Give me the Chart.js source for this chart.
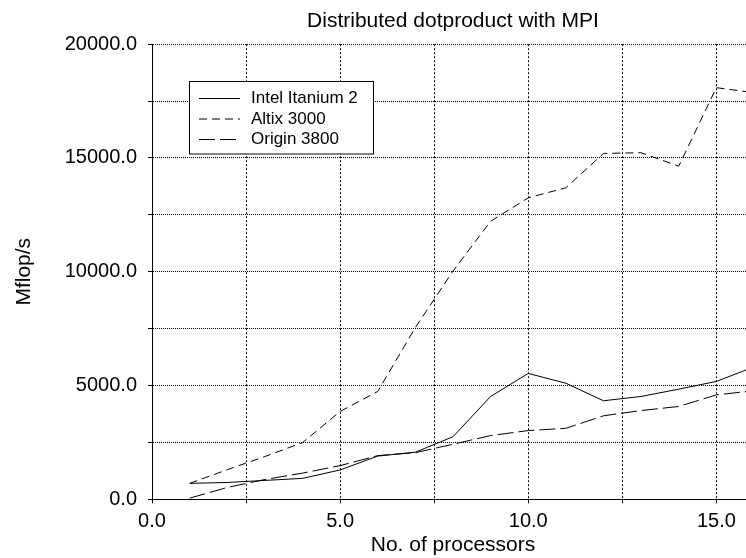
<!DOCTYPE html>
<html>
<head>
<meta charset="utf-8">
<script src="https://cdn.jsdelivr.net/npm/chart.js@4"></script>
<style>
  html, body { margin: 0; padding: 0; background: #fff; overflow: hidden; }
  #wrap { width: 746px; height: 558px; overflow: hidden; }
</style>
</head>
<body>
<div id="wrap"><canvas id="dotChart" width="754" height="558"></canvas></div>
<script>
// Data
const processors = [1, 2, 3, 4, 5, 6, 7, 8, 9, 10, 11, 12, 13, 14, 15, 16];
const itanium = [700, 740, 830, 920, 1290, 1900, 2070, 2750, 4520, 5530, 5100, 4330, 4520, 4840, 5180, 5820];
const altix = [700, 1300, 1880, 2490, 3860, 4740, 7550, 10030, 12220, 13250, 13690, 15200, 15230, 14640, 18090, 17870];
const origin = [50, 520, 870, 1150, 1480, 1920, 2050, 2420, 2800, 3020, 3120, 3670, 3900, 4080, 4590, 4770];
const seriesNames = ["Intel Itanium 2", "Altix 3000", "Origin 3800"];

function toPoints(ys) {
  return processors.map(function (x, i) { return { x: x, y: ys[i] }; });
}

Chart.defaults.font.family = '"Liberation Sans", Arial, Helvetica, sans-serif';
Chart.defaults.color = "#000";

// legend box drawn inside the plot area
const boxLegend = {
  id: "boxLegend",
  afterDraw: function (chart) {
    const ctx = chart.ctx;
    const left = 189.5, top = 81.5, w = 184, h = 72.5;
    ctx.save();
    ctx.fillStyle = "#fff";
    ctx.fillRect(left, top, w, h);
    ctx.strokeStyle = "#000";
    ctx.lineWidth = 1;
    ctx.setLineDash([]);
    ctx.strokeRect(left, top, w, h);
    ctx.font = '17px "Liberation Sans", Arial, sans-serif';
    ctx.textBaseline = "middle";
    ctx.fillStyle = "#000";
    chart.data.datasets.forEach(function (ds, i) {
      const y = 98.5 + i * 20.5;
      ctx.beginPath();
      ctx.setLineDash(ds.borderDash || []);
      ctx.moveTo(199, y);
      ctx.lineTo(240, y);
      ctx.stroke();
      ctx.fillText(ds.label, 251, y);
    });
    ctx.restore();
  },
};

new Chart(document.getElementById("dotChart").getContext("2d"), {
  type: "line",
  data: {
    datasets: [
      {
        label: seriesNames[0],
        data: toPoints(itanium),
        borderColor: "#000",
        borderWidth: 1,
        pointRadius: 0,
        tension: 0,
      },
      {
        label: seriesNames[1],
        data: toPoints(altix),
        borderColor: "#000",
        borderWidth: 1,
        borderDash: [8, 5],
        pointRadius: 0,
        tension: 0,
      },
      {
        label: seriesNames[2],
        data: toPoints(origin),
        borderColor: "#000",
        borderWidth: 1,
        borderDash: [16, 5],
        pointRadius: 0,
        tension: 0,
      },
    ],
  },
  options: {
    responsive: false,
    animation: false,
    layout: { padding: 0 },
    plugins: {
      legend: { display: false },
      tooltip: { enabled: false },
      title: {
        display: true,
        fullSize: false,
        text: "Distributed dotproduct with MPI",
        font: { size: 21, weight: "normal" },
        color: "#000",
        padding: { top: 9, bottom: 10 },
      },
    },
    scales: {
      x: {
        type: "linear",
        min: 0,
        max: 16,
        afterFit: function (scale) { scale.height = 58.7; },
        ticks: {
          stepSize: 2.5,
          includeBounds: false,
          maxRotation: 0,
          autoSkip: false,
          padding: 6,
          font: { size: 20 },
          callback: function (v) { return v % 5 === 0 ? v.toFixed(1) : ""; },
        },
        grid: { color: "#000", tickLength: 4, lineWidth: 1 },
        border: { color: "#000", width: 1, dash: [2, 2] },
        title: {
          display: true,
          text: "No. of processors",
          font: { size: 21 },
          padding: { top: 0, bottom: 0 },
        },
      },
      y: {
        min: 0,
        max: 20000,
        afterFit: function (scale) { scale.width = 152; },
        ticks: {
          stepSize: 2500,
          autoSkip: false,
          padding: 11,
          font: { size: 20 },
          callback: function (v) { return v % 5000 === 0 ? v.toFixed(1) : ""; },
        },
        grid: { color: "#000", tickLength: 4, lineWidth: 1 },
        border: { color: "#000", width: 1, dash: [1, 1] },
        title: {
          display: true,
          text: "Mflop/s",
          font: { size: 21 },
          padding: { top: 12, bottom: 0 },
        },
      },
    },
  },
  plugins: [boxLegend],
});
</script>
</body>
</html>
